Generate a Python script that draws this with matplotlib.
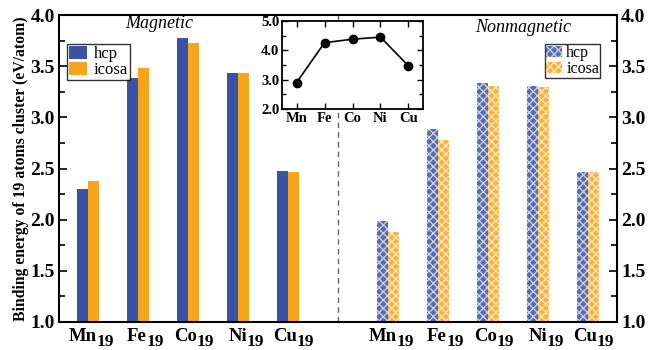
import numpy as np
import matplotlib
matplotlib.use('Agg')
from matplotlib import pyplot as plt

plt.rcParams['font.family'] = 'Liberation Serif'
plt.rcParams['hatch.linewidth'] = 0.9

# data
elements = ['Mn', 'Fe', 'Co', 'Ni', 'Cu']
mag_hcp = [2.30, 3.38, 3.78, 3.43, 2.48]
mag_icosa = [2.38, 3.485, 3.73, 3.43, 2.47]
nonmag_hcp = [1.99, 2.89, 3.34, 3.31, 2.47]
nonmag_icosa = [1.88, 2.78, 3.31, 3.30, 2.47]
inset_vals = [2.90, 4.26, 4.38, 4.45, 3.47]

blue = '#3A53A4'
orange = '#F9A51B'

fig = plt.figure(figsize=(6.49, 3.5), dpi=100)
ax = fig.add_axes([0.0909, 0.08, 0.8598, 0.877])

x_mag = np.arange(5)
x_non = np.arange(5) + 6
w = 0.22

b1 = ax.bar(x_mag - w / 2, mag_hcp, w, color=blue, label='hcp')
b2 = ax.bar(x_mag + w / 2, mag_icosa, w, color=orange, label='icosa')
b3 = ax.bar(x_non - w / 2, nonmag_hcp, w, color=blue, edgecolor='#e3e7f5', linewidth=0,
            hatch='xxxx', alpha=0.85, label='hcp')
b4 = ax.bar(x_non + w / 2, nonmag_icosa, w, color=orange, edgecolor='#fff5e0', linewidth=0,
            hatch='xxxx', alpha=0.85, label='icosa')

ax.axvline(5, color='#666666', linestyle=(0, (4, 3)), linewidth=1)

ax.set_xlim(-0.58, 10.58)
ax.set_ylim(1.0, 4.0)
yt = np.arange(1.0, 4.01, 0.5)
ax.set_yticks(yt)
ax.set_yticks(np.arange(1.25, 4.0, 0.5), minor=True)
ax.set_yticklabels([f'{v:.1f}' for v in yt], fontsize=14, fontweight='bold')
ax.tick_params(axis='y', which='both', direction='in', right=True, labelright=True, width=1.2)
ax.tick_params(axis='y', which='major', length=6, pad=3)
ax.tick_params(axis='y', which='minor', length=4)
for t in ax.yaxis.get_major_ticks():
    t.label2.set_fontweight('bold')
    t.label2.set_fontsize(14)

# x tick labels: element name plus a large subscript 19
ax.set_xticks(list(x_mag) + list(x_non))
ax.set_xticklabels([])
ax.tick_params(axis='x', length=0)
for xs in (x_mag, x_non):
    for xi, e in zip(xs, elements):
        ax.annotate(e, xy=(xi, 0), xycoords=('data', 'axes fraction'), xytext=(6.5, -4),
                    textcoords='offset points', ha='right', va='top', fontsize=13.5, fontweight='bold')
        ax.annotate('19', xy=(xi, 0), xycoords=('data', 'axes fraction'), xytext=(6.5, -9),
                    textcoords='offset points', ha='left', va='top', fontsize=12.5, fontweight='bold')

for s in ax.spines.values():
    s.set_linewidth(1.5)

ax.set_ylabel('Binding energy of 19 atoms cluster (eV/atom)', fontsize=11.3, fontweight='bold', labelpad=1)

ax.text(1.42, 3.92, 'Magnetic', fontsize=13, style='italic', ha='center', va='center')
ax.text(8.71, 3.88, 'Nonmagnetic', fontsize=13, style='italic', ha='center', va='center')

leg1 = ax.legend([b1, b2], ['hcp', 'icosa'], loc='upper left', bbox_to_anchor=(0.0145, 0.905),
                 fontsize=12, frameon=True, fancybox=False, edgecolor='black',
                 handlelength=1.1, handleheight=0.75, handletextpad=0.4, borderpad=0.12,
                 labelspacing=0.0, borderaxespad=0)
leg1.get_frame().set_linewidth(1.0)
ax.add_artist(leg1)
leg2 = ax.legend([b3, b4], ['hcp', 'icosa'], loc='upper right', bbox_to_anchor=(0.9695, 0.905),
                 fontsize=11.5, frameon=True, fancybox=False, edgecolor='black',
                 handlelength=1.0, handleheight=0.75, handletextpad=0.3, borderpad=0.05,
                 labelspacing=0.0, borderaxespad=0)
leg2.get_frame().set_linewidth(1.0)

# inset
axi = fig.add_axes([0.4345, 0.6886, 0.2173, 0.2514])
axi.plot(range(5), inset_vals, color='black', linewidth=1.2, marker='o', markersize=6)
axi.set_xlim(-0.52, 4.52)
axi.set_ylim(2.0, 5.0)
axi.set_xticks(range(5))
axi.set_xticklabels(elements, fontsize=10.5, fontweight='bold')
axi.set_yticks([2.0, 3.0, 4.0, 5.0])
axi.set_yticks([2.5, 3.5, 4.5], minor=True)
axi.set_yticklabels(['2.0', '3.0', '4.0', '5.0'], fontsize=10.5, fontweight='bold')
axi.tick_params(which='both', direction='in', top=True, right=True, width=1.0, pad=2)
axi.tick_params(which='major', length=4)
axi.tick_params(which='minor', length=3)
for s in axi.spines.values():
    s.set_linewidth(1.3)

fig.savefig('out.png', dpi=100)
